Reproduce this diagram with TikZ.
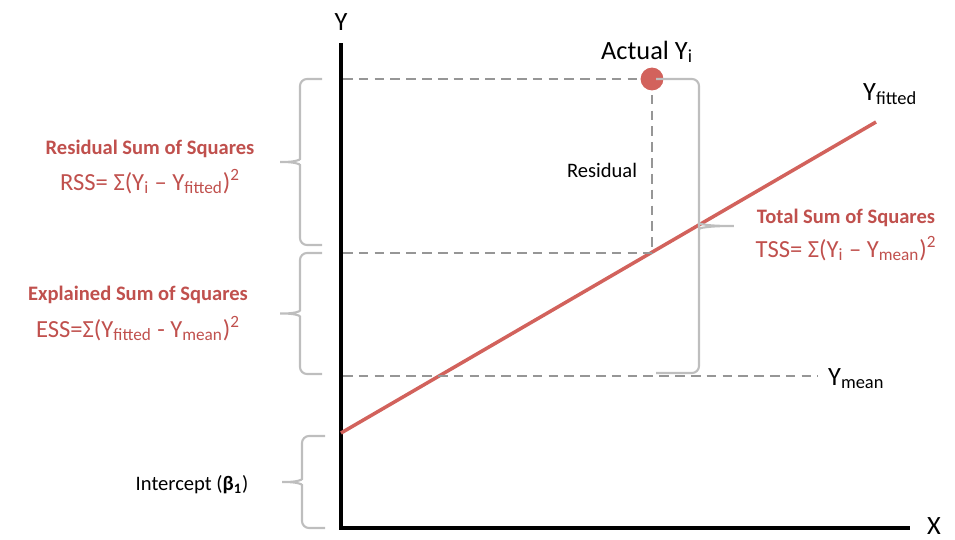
\documentclass[tikz,border=0pt]{standalone}
\usepackage{fontspec}
\setmainfont{Carlito}
\usepackage{tikz}
\definecolor{sumred}{RGB}{192,80,77}
\definecolor{fitred}{RGB}{210,98,92}
\definecolor{dashgray}{RGB}{150,150,150}
\definecolor{bracegray}{RGB}{190,190,190}

%% gray brace: end x, spine x, tip x, bottom y, top y
\newcommand{\gbrace}[5]{%
  \pgfmathsetmacro{\ym}{(#4+#5)/2}
  \pgfmathsetmacro{\xk}{#2+0.25*(#3-#2)}
  \draw[gbr] (#1,#5) -- (#2,#5) -- (#2,\ym+10)
    .. controls (#2,\ym+2) and (\xk,\ym) .. (#3,\ym)
    .. controls (\xk,\ym) and (#2,\ym-2) .. (#2,\ym-10)
    -- (#2,#4) -- (#1,#4);
}

\begin{document}
\begin{tikzpicture}[x=0.02cm,y=0.02cm,
  axis/.style={line width=2pt, black},
  guide/.style={dashgray, line width=1.6pt, dash pattern=on 5.5pt off 3.5pt},
  gbr/.style={bracegray, line width=1.2pt, rounded corners=4pt},
  axlab/.style={font=\fontsize{15}{17}\selectfont},
  ttl/.style={text=sumred, font=\fontsize{11.7}{14}\selectfont\bfseries},
  fml/.style={text=sumred, font=\fontsize{14}{16}\selectfont},
  note/.style={font=\fontsize{11.7}{14}\selectfont}]
  \useasboundingbox (0,0) rectangle (955,539);

  %% Axes
  \coordinate (O) at (341,11);
  \coordinate (ytop) at (341,496);
  \coordinate (xend) at (910,11);
  \draw[axis] (ytop) -- (O) -- (xend);
  \node[axlab, anchor=base] (ylab) at (341,509) {Y};
  \node[axlab, anchor=base] (xlab) at (934,5) {X};

  %% Fitted line
  \coordinate (fitA) at (341,106);
  \coordinate (fitB) at (876,417);
  \draw[fitred, line width=2pt] (fitA) -- (fitB);
  \node[axlab, anchor=base west] (yfit) at (857,439) {Y\textsubscript{fitted}};

  %% Guides
  \coordinate (ya) at (343,460);
  \coordinate (yf) at (343,286);
  \coordinate (yfp) at (652,286);
  \coordinate (ym) at (343,163);
  \coordinate (yme) at (818,163);
  \draw[guide] (ya) -- (652,460);
  \draw[guide] (652,460) -- (yfp);
  \draw[guide] (yf) -- (yfp);
  \draw[guide] (ym) -- (yme);
  \node[axlab, anchor=base west] (ymean) at (822,154) {Y\textsubscript{mean}};

  %% Actual point
  \node[circle, fill=fitred, inner sep=0pt, minimum size=13pt] (act) at (652,460) {};
  \node[axlab, anchor=base west] (actlab) at (595,480) {Actual Y\textsubscript{i}};
  \node[note, anchor=base] (res) at (602,362) {Residual};

  %% Braces
  \gbrace{322}{300}{276}{294}{460}
  \gbrace{322}{300}{276}{165}{286}
  \gbrace{325}{302}{278}{11}{103}
  \gbrace{656}{699}{738}{460}{166}

  %% Labels
  \node[ttl, anchor=base] (rssttl) at (150,385) {Residual Sum of Squares};
  \node[fml, anchor=base] (rss) at (150,349) {RSS= Σ(Y\textsubscript{i} – Y\textsubscript{fitted})\textsuperscript{2}};
  \node[ttl, anchor=base] (essttl) at (138,239) {Explained Sum of Squares};
  \node[fml, anchor=base] (ess) at (138,202) {ESS=Σ(Y\textsubscript{fitted} - Y\textsubscript{mean})\textsuperscript{2}};
  \node[ttl, anchor=base] (tssttl) at (846,316) {Total Sum of Squares};
  \node[fml, anchor=base] (tss) at (846,282) {TSS= Σ(Y\textsubscript{i} – Y\textsubscript{mean})\textsuperscript{2}};
  \node[note, anchor=base] (icpt) at (192,49) {Intercept (\textbf{β\textsubscript{1}})};
\end{tikzpicture}
\end{document}
